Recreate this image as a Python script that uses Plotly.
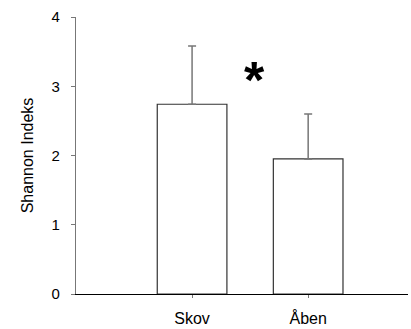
import plotly.graph_objects as go

categories = ["Skov", "Åben"]
means = [2.74, 1.95]
errors_plus = [0.84, 0.65]
y_ticks = [0, 1, 2, 3, 4]
sig_label = "*"
sig_y = 3.09

fig = go.Figure()
fig.add_trace(go.Bar(
    x=[0, 1], y=means, width=0.6,
    marker=dict(color="white", line=dict(color="#333333", width=1.2)),
    error_y=dict(type="data", symmetric=False, array=errors_plus, arrayminus=[0, 0],
                 color="#777777", thickness=1.5, width=4),
    showlegend=False,
))
fig.add_annotation(x=0.5, y=sig_y, text="<b>" + sig_label + "</b>", showarrow=False,
                   font=dict(family="Liberation Sans, Arial", size=52, color="black"),
                   xshift=4)

fig.update_layout(
    width=411, height=329,
    margin=dict(l=76, r=3, t=17, b=35),
    plot_bgcolor="white", paper_bgcolor="white",
    font=dict(family="Liberation Sans, Arial", size=14, color="black"),
    xaxis=dict(range=[-1, 1.86], tickmode="array", tickvals=[0, 1], ticktext=categories,
               showline=True, linecolor="black", linewidth=1.2, ticks="outside",
               ticklen=3, tickcolor="#777777", showgrid=False, zeroline=False,
               tickfont=dict(size=16), ticklabelstandoff=7),
    yaxis=dict(range=[0, 4], tickvals=y_ticks, showline=True, linecolor="#777777",
               linewidth=1.2, ticks="outside", ticklen=4, tickcolor="#777777",
               showgrid=False, zeroline=False, tickfont=dict(size=15),
               ticklabelstandoff=8,
               title=dict(text="Shannon Indeks", font=dict(size=16), standoff=13)),
)
fig.write_html("out.html")
